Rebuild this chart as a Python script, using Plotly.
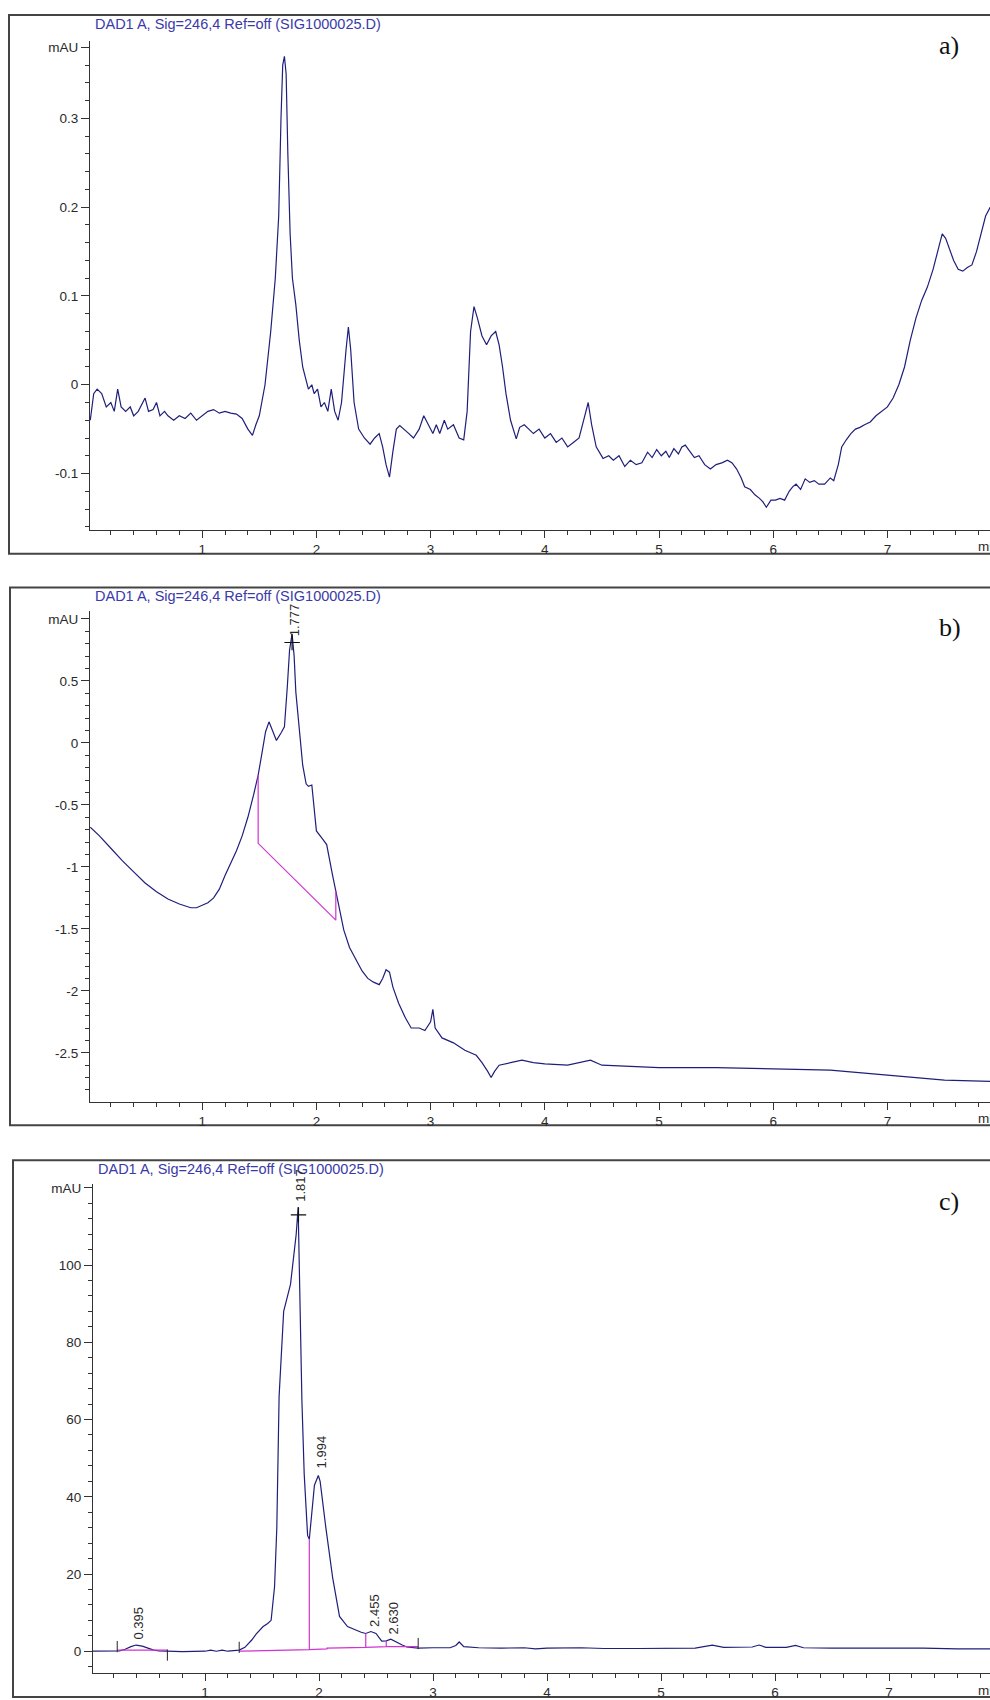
import plotly.graph_objects as go

W, H = 990, 1700

# ---------------- data ----------------
title_text = "DAD1 A, Sig=246,4 Ref=off (SIG1000025.D)"

# panel a
a_t = [0.02,0.05,0.08,0.12,0.16,0.2,0.23,0.26,0.29,0.33,0.37,0.4,0.44,0.48,0.5,0.53,0.57,0.6,0.63,0.67,0.7,0.75,0.8,0.85,0.9,0.95,1.0,1.05,1.1,1.15,1.2,1.25,1.3,1.35,1.4,1.44,1.47,1.5,1.55,1.6,1.64,1.67,1.69,1.705,1.72,1.735,1.75,1.77,1.79,1.82,1.85,1.88,1.9,1.93,1.96,1.98,2.01,2.04,2.07,2.1,2.13,2.16,2.19,2.22,2.26,2.28,2.3,2.33,2.37,2.42,2.47,2.51,2.55,2.58,2.61,2.64,2.67,2.7,2.73,2.77,2.81,2.85,2.9,2.94,2.98,3.02,3.05,3.08,3.12,3.15,3.2,3.25,3.29,3.32,3.35,3.38,3.41,3.45,3.49,3.53,3.57,3.6,3.63,3.66,3.7,3.75,3.78,3.82,3.86,3.9,3.95,4.0,4.05,4.1,4.15,4.2,4.25,4.3,4.35,4.38,4.41,4.45,4.51,4.56,4.6,4.65,4.7,4.75,4.8,4.85,4.9,4.94,4.98,5.02,5.06,5.09,5.13,5.17,5.2,5.23,5.27,5.31,5.35,5.4,5.45,5.5,5.55,5.6,5.64,5.68,5.72,5.75,5.8,5.84,5.88,5.91,5.94,5.98,6.02,6.06,6.1,6.14,6.17,6.2,6.24,6.28,6.32,6.36,6.4,6.45,6.5,6.53,6.57,6.6,6.64,6.68,6.72,6.76,6.8,6.85,6.9,6.95,7.0,7.05,7.1,7.15,7.2,7.25,7.3,7.35,7.4,7.45,7.48,7.51,7.55,7.58,7.62,7.66,7.7,7.74,7.78,7.82,7.86,7.9]
a_v = [-0.04,-0.01,-0.005,-0.01,-0.025,-0.02,-0.03,-0.005,-0.025,-0.03,-0.025,-0.035,-0.03,-0.02,-0.015,-0.03,-0.028,-0.02,-0.035,-0.03,-0.035,-0.04,-0.035,-0.038,-0.032,-0.04,-0.035,-0.03,-0.028,-0.032,-0.03,-0.032,-0.033,-0.038,-0.05,-0.057,-0.045,-0.035,0.0,0.06,0.12,0.19,0.3,0.36,0.37,0.35,0.26,0.17,0.12,0.09,0.05,0.02,0.01,-0.005,0.0,-0.01,-0.005,-0.025,-0.02,-0.03,-0.005,-0.03,-0.04,-0.02,0.04,0.065,0.04,-0.02,-0.05,-0.06,-0.067,-0.06,-0.055,-0.07,-0.09,-0.104,-0.075,-0.05,-0.046,-0.05,-0.055,-0.06,-0.05,-0.035,-0.045,-0.055,-0.045,-0.055,-0.04,-0.05,-0.045,-0.06,-0.062,-0.03,0.06,0.088,0.075,0.055,0.045,0.055,0.06,0.045,0.02,-0.01,-0.04,-0.061,-0.048,-0.045,-0.05,-0.055,-0.05,-0.06,-0.055,-0.065,-0.06,-0.07,-0.065,-0.06,-0.035,-0.02,-0.045,-0.07,-0.083,-0.08,-0.085,-0.08,-0.092,-0.085,-0.09,-0.088,-0.076,-0.082,-0.073,-0.08,-0.075,-0.082,-0.072,-0.078,-0.07,-0.068,-0.075,-0.082,-0.08,-0.09,-0.095,-0.09,-0.088,-0.085,-0.088,-0.095,-0.105,-0.115,-0.118,-0.124,-0.128,-0.132,-0.138,-0.13,-0.13,-0.128,-0.13,-0.12,-0.115,-0.112,-0.118,-0.106,-0.11,-0.108,-0.112,-0.112,-0.105,-0.108,-0.09,-0.07,-0.062,-0.055,-0.05,-0.048,-0.045,-0.042,-0.035,-0.03,-0.025,-0.015,0.0,0.02,0.05,0.075,0.095,0.11,0.13,0.155,0.17,0.165,0.15,0.14,0.13,0.128,0.132,0.135,0.15,0.17,0.19,0.2]

# panel b
b_t = [0.02,0.1,0.2,0.3,0.4,0.5,0.6,0.7,0.8,0.9,0.95,1.0,1.05,1.1,1.15,1.2,1.25,1.3,1.35,1.4,1.45,1.49,1.52,1.555,1.585,1.62,1.65,1.69,1.72,1.745,1.765,1.787,1.805,1.82,1.85,1.88,1.91,1.93,1.96,2.0,2.05,2.09,2.14,2.17,2.24,2.29,2.35,2.4,2.45,2.5,2.55,2.58,2.61,2.64,2.67,2.72,2.78,2.83,2.9,2.95,3.0,3.02,3.04,3.1,3.2,3.3,3.4,3.45,3.5,3.53,3.56,3.6,3.7,3.8,3.9,4.0,4.2,4.4,4.5,4.7,5.0,5.5,6.0,6.3,6.5,7.0,7.5,7.9]
b_v = [-0.68,-0.75,-0.85,-0.95,-1.04,-1.13,-1.2,-1.26,-1.3,-1.33,-1.33,-1.31,-1.29,-1.25,-1.18,-1.07,-0.97,-0.87,-0.75,-0.6,-0.42,-0.26,-0.1,0.09,0.17,0.08,0.02,0.08,0.13,0.45,0.75,0.88,0.7,0.41,0.1,-0.18,-0.33,-0.35,-0.34,-0.71,-0.77,-0.82,-1.06,-1.19,-1.51,-1.65,-1.76,-1.84,-1.9,-1.93,-1.95,-1.9,-1.83,-1.85,-1.97,-2.1,-2.22,-2.3,-2.3,-2.32,-2.25,-2.15,-2.3,-2.38,-2.42,-2.48,-2.52,-2.58,-2.65,-2.7,-2.65,-2.6,-2.58,-2.56,-2.58,-2.59,-2.6,-2.56,-2.6,-2.61,-2.62,-2.62,-2.63,-2.64,-2.64,-2.68,-2.72,-2.73]
b_base_t = [1.49, 1.49, 2.17, 2.17]
b_base_v = [-0.26, -0.81, -1.43, -1.19]

# panel c
c_t = [0.01,0.2,0.25,0.3,0.35,0.395,0.45,0.5,0.55,0.6,0.67,0.8,1.0,1.05,1.1,1.15,1.2,1.3,1.35,1.41,1.45,1.51,1.55,1.58,1.61,1.63,1.65,1.69,1.75,1.8,1.817,1.83,1.85,1.87,1.9,1.915,1.94,1.96,1.994,2.01,2.06,2.12,2.18,2.25,2.37,2.41,2.455,2.5,2.55,2.59,2.63,2.68,2.73,2.77,2.82,2.87,3.0,3.15,3.2,3.23,3.27,3.4,3.6,3.8,3.9,4.0,4.3,4.5,4.8,5.1,5.3,5.45,5.55,5.8,5.86,5.92,6.1,6.18,6.25,6.5,6.8,7.0,7.3,7.6,7.9]
c_v = [0.0,0.0,0.1,0.5,1.2,1.6,1.3,0.8,0.3,0.1,0.0,-0.1,0.0,0.3,0.0,0.3,0.0,0.3,1.0,2.9,4.5,6.4,7.2,8.0,16.7,32,66,88,95,108,115,95,65,46,30,29,36,43,45.5,44,32,19,9,6.4,4.9,4.6,5.1,4.6,2.6,2.7,3.1,2.3,1.6,1.1,0.9,0.8,0.9,0.9,1.5,2.4,1.2,0.9,0.8,0.9,0.6,0.8,0.9,0.7,0.7,0.7,0.8,1.6,1.0,1.1,1.6,1.0,1.0,1.5,0.9,0.8,0.8,0.9,0.8,0.6,0.6]
c_base1_t = [0.23, 0.67]
c_base1_v = [0.3, 0.3]
c_base_t = [1.30, 1.915, 1.915, 1.915, 2.07, 2.07, 2.41, 2.41, 2.41, 2.59, 2.59, 2.59, 2.87]
c_base_v = [0.0, 0.4, 29.0, 0.4, 0.6, 0.8, 1.0, 4.6, 1.0, 1.2, 2.7, 1.2, 1.2]
c_ticks_t = [0.23, 0.67, 1.30, 2.87]
c_ticks_v = [1.2, -1.0, 1.0, 2.0]

peaks_b = [("1.777", 1.777, 0.88)]
peaks_c = [("0.395", 0.395, 1.6), ("1.817", 1.817, 115), ("1.994", 1.994, 46),
           ("2.455", 2.455, 5.1), ("2.630", 2.63, 3.1)]
cross_b = [(1.787, 0.81)]
cross_c = [(1.82, 113)]

xticks = [1, 2, 3, 4, 5, 6, 7]
ya_vals = [-0.1, 0, 0.1, 0.2, 0.3, 0.38]
ya_text = ["-0.1", "0", "0.1", "0.2", "0.3", "mAU"]
yb_vals = [-2.5, -2, -1.5, -1, -0.5, 0, 0.5, 1.0]
yb_text = ["-2.5", "-2", "-1.5", "-1", "-0.5", "0", "0.5", "mAU"]
yc_vals = [0, 20, 40, 60, 80, 100, 120]
yc_text = ["0", "20", "40", "60", "80", "100", "mAU"]

# ---------------- layout geometry (pixels) ----------------
def px(x):
    return x / W

def py(y):
    return 1 - y / H

panels = [
    dict(ft=12, fb=554, fl=9, at=38, ab=530, x0=88, s=114.2, yr=(-0.1635, 0.3875), ym=0.02,
         label="a)", ly=43, tv=ya_vals, tt=ya_text),
    dict(ft=588, fb=1129, fl=10, at=612, ab=1105, x0=88, s=114.2, yr=(-2.893, 1.061), ym=0.1,
         label="b)", ly=628, tv=yb_vals, tt=yb_text),
    dict(ft=1164, fb=1704, fl=13, at=1188, ab=1680, x0=91, s=114.0, yr=(-5.67, 121.0), ym=4,
         label="c)", ly=1206, tv=yc_vals, tt=yc_text),
]

curve_col = "#1f1f7a"
mag_col = "#d033d0"
axis_col = "#333333"
FONT = "Liberation Sans, Arial, sans-serif"
tick_font = dict(family=FONT, size=13.5, color="#2a2a2a")

fig = go.Figure()

series = [(a_t, a_v), (b_t, b_v), (c_t, c_v)]
for i, (t, v) in enumerate(series):
    xa = "x" if i == 0 else f"x{i+1}"
    ya = "y" if i == 0 else f"y{i+1}"
    fig.add_trace(go.Scatter(x=t, y=v, mode="lines", line=dict(color=curve_col, width=1.2),
                             xaxis=xa, yaxis=ya, showlegend=False, hoverinfo="skip"))

# baselines
fig.add_trace(go.Scatter(x=b_base_t, y=b_base_v, mode="lines", line=dict(color=mag_col, width=1.2),
                         xaxis="x2", yaxis="y2", showlegend=False))
fig.add_trace(go.Scatter(x=c_base1_t, y=c_base1_v, mode="lines", line=dict(color=mag_col, width=1.2),
                         xaxis="x3", yaxis="y3", showlegend=False))
fig.add_trace(go.Scatter(x=c_base_t, y=c_base_v, mode="lines", line=dict(color=mag_col, width=1.2),
                         xaxis="x3", yaxis="y3", showlegend=False))
fig.add_trace(go.Scatter(x=c_ticks_t, y=c_ticks_v, mode="markers",
                         marker=dict(symbol="line-ns-open", size=8, color="#222",
                                     line=dict(color="#222", width=1)),
                         xaxis="x3", yaxis="y3", showlegend=False))
# crosses
fig.add_trace(go.Scatter(x=[c[0] for c in cross_b], y=[c[1] for c in cross_b], mode="markers",
                         marker=dict(symbol="cross-thin-open", size=11, color="#111",
                                     line=dict(color="#111", width=1.2)),
                         xaxis="x2", yaxis="y2", showlegend=False))
fig.add_trace(go.Scatter(x=[c[0] for c in cross_c], y=[c[1] for c in cross_c], mode="markers",
                         marker=dict(symbol="cross-thin-open", size=11, color="#111",
                                     line=dict(color="#111", width=1.2)),
                         xaxis="x3", yaxis="y3", showlegend=False))

layout = dict(width=W, height=H, margin=dict(l=0, r=0, t=0, b=0),
              paper_bgcolor="white", plot_bgcolor="white", showlegend=False)

shapes = []
annotations = []
for i, p in enumerate(panels):
    xs = "xaxis" if i == 0 else f"xaxis{i+1}"
    ys = "yaxis" if i == 0 else f"yaxis{i+1}"
    xa_id = "x" if i == 0 else f"x{i+1}"
    ya_id = "y" if i == 0 else f"y{i+1}"
    dom_left = p["x0"] + 2
    xr = ((dom_left - p["x0"]) / p["s"], (W - p["x0"]) / p["s"])
    layout[xs] = dict(domain=[px(dom_left), 1.0], range=list(xr), anchor=ya_id,
                      showline=True, linecolor=axis_col, linewidth=1,
                      ticks="outside", ticklen=7, tickwidth=1, tickcolor=axis_col,
                      tickvals=xticks, ticktext=[str(v) for v in xticks], tickfont=tick_font,
                      showgrid=False, zeroline=False,
                      minor=dict(dtick=0.2, tick0=0, ticks="outside", ticklen=4,
                                 tickcolor=axis_col, tickwidth=1, showgrid=False))
    layout[ys] = dict(domain=[py(p["ab"]), py(p["at"])], range=list(p["yr"]), anchor=xa_id,
                      showline=True, linecolor=axis_col, linewidth=1,
                      ticks="outside", ticklen=8, tickwidth=1, tickcolor=axis_col,
                      tickvals=p["tv"], ticktext=p["tt"], tickfont=tick_font,
                      showgrid=False, zeroline=False,
                      minor=dict(dtick=p["ym"], tick0=0, ticks="outside", ticklen=4,
                                 tickcolor=axis_col, tickwidth=1, showgrid=False))
    shapes.append(dict(type="rect", xref="paper", yref="paper",
                       x0=px(p["fl"]), x1=px(W + 30), y0=py(p["fb"]), y1=py(p["ft"]),
                       line=dict(color="#444444", width=2), fillcolor="rgba(0,0,0,0)", layer="below"))
    annotations.append(dict(text=title_text, xref="paper", yref="paper",
                            x=px(p["x0"] + 5), y=py(p["ft"] + 9), xanchor="left", yanchor="middle",
                            showarrow=False,
                            font=dict(family=FONT, size=14.5, color="#3a3aa8")))
    annotations.append(dict(text=p["label"], xref="paper", yref="paper",
                            x=px(937), y=py(p["ly"]), xanchor="left", yanchor="middle", showarrow=False,
                            font=dict(family="Liberation Serif, serif", size=26, color="#111")))
    annotations.append(dict(text="min", xref="paper", yref="paper",
                            x=px(976), y=py(p["ab"] + 17), xanchor="left", yanchor="middle", showarrow=False,
                            font=tick_font))

peak_font = dict(family=FONT, size=13, color="#2a2a2a")
for lab, t, v in peaks_b:
    annotations.append(dict(text=lab, x=t, y=v, xref="x2", yref="y2", textangle=-90,
                            xanchor="center", yanchor="bottom", yshift=-4, xshift=3,
                            showarrow=False, font=peak_font))
for lab, t, v in peaks_c:
    annotations.append(dict(text=lab, x=t, y=v, xref="x3", yref="y3", textangle=-90,
                            xanchor="center", yanchor="bottom", yshift=3, xshift=3,
                            showarrow=False, font=peak_font))

layout["shapes"] = shapes
layout["annotations"] = annotations
fig.update_layout(**layout)
fig.write_html("out.html")
